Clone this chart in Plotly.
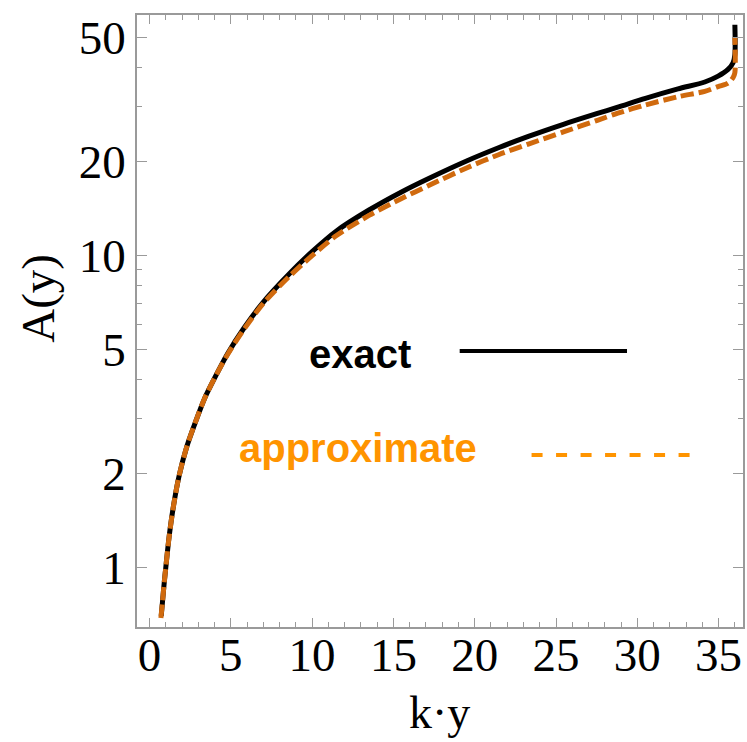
import plotly.graph_objects as go

# ---- data ----
ky_exact = [0.72, 0.80, 0.90, 1.0, 1.2, 1.45, 1.8, 2.3, 2.9, 3.4, 4.0, 4.8, 5.8, 7.0, 8.6,
            10.0, 11.5, 13.5, 15.5, 17.2, 19.5, 21.5, 23.3, 25.5, 27.5, 28.8, 30.5, 32.5,
            34.15, 34.97, 35.58, 35.89, 36.0, 36.0]
A_exact = [0.70, 0.78, 0.89, 1.0, 1.25, 1.55, 1.95, 2.45, 3.0, 3.5, 4.05, 4.85, 5.85, 7.1, 8.75,
           10.3, 12.0, 14.0, 16.0, 17.7, 20.1, 22.2, 24.1, 26.4, 28.5, 29.9, 31.9, 34.2,
           36.0, 37.6, 39.5, 41.5, 44.0, 54.9]

ky_approx = [0.70, 0.80, 0.90, 1.0, 1.2, 1.45, 1.8, 2.3, 2.9, 3.4, 4.0, 4.8, 5.8, 7.0, 8.6,
             10.0, 11.5, 13.5, 15.5, 17.2, 19.5, 21.5, 23.3, 25.5, 27.5, 28.8, 30.5, 32.5,
             34.15, 34.97, 35.58, 35.9, 36.0, 36.0]
A_approx = [0.69, 0.78, 0.89, 1.0, 1.25, 1.55, 1.95, 2.45, 3.0, 3.5, 4.05, 4.82, 5.8, 7.03, 8.58,
            10.0, 11.6, 13.45, 15.25, 16.8, 19.1, 21.09, 22.77, 24.95, 27.08, 28.6, 30.4, 32.3,
            33.6, 34.8, 35.7, 37.3, 38.6, 50.0]

x_major = [0, 5, 10, 15, 20, 25, 30, 35]
y_major = [1, 2, 5, 10, 20, 50]
y_minor = [3, 4, 6, 7, 8, 9, 30, 40]

legend_labels = ["exact", "approximate"]
x_title = "k·y"
y_title = "A(y)"

BLACK = "#000000"
CURVE_ORANGE = "#d06a0e"
LEGEND_ORANGE = "#ff9400"
FRAME = "#9a9a9a"

fig = go.Figure()
fig.add_trace(go.Scatter(x=ky_exact, y=A_exact, mode="lines",
                         line=dict(color=BLACK, width=5, shape="spline", smoothing=0.8),
                         showlegend=False))
fig.add_trace(go.Scatter(x=ky_approx, y=A_approx, mode="lines",
                         line=dict(color=CURVE_ORANGE, width=5, dash="13px,5px",
                                   shape="spline", smoothing=0.8),
                         showlegend=False))

tickfont = dict(family="Liberation Serif", size=47, color="black")

fig.update_layout(
    width=747, height=742,
    margin=dict(l=137, r=2, t=15, b=115),
    paper_bgcolor="white", plot_bgcolor="white",
    xaxis=dict(
        range=[-0.77, 36.5], showgrid=False, zeroline=False,
        showline=True, linecolor=FRAME, linewidth=1.5, mirror="ticks",
        ticks="inside", ticklen=9, tickwidth=1.2, tickcolor=FRAME,
        tickmode="array", tickvals=x_major, ticktext=[str(v) for v in x_major],
        tickfont=tickfont, ticklabelstandoff=-14,
        minor=dict(dtick=1, tick0=0, ticks="inside", ticklen=5, tickwidth=1.2, tickcolor=FRAME),
    ),
    yaxis=dict(
        type="log", range=[-0.19, 1.771], showgrid=False, zeroline=False,
        showline=True, linecolor=FRAME, linewidth=1.5, mirror="ticks",
        ticks="inside", ticklen=10, tickwidth=1.2, tickcolor=FRAME,
        tickmode="array", tickvals=y_major, ticktext=[str(v) for v in y_major],
        tickfont=tickfont, ticklabelstandoff=0,
        minor=dict(tickmode="array", tickvals=y_minor, ticks="inside", ticklen=5,
                   tickwidth=1.2, tickcolor=FRAME),
    ),
)

# axis titles
fig.add_annotation(xref="paper", yref="paper", x=0.4996, y=-0.1405, xanchor="center", yanchor="middle",
                   text=x_title, showarrow=False,
                   font=dict(family="Liberation Serif", size=46, color="black"))
fig.add_annotation(xref="paper", yref="paper", x=-0.1638, y=0.5376, xanchor="center", yanchor="middle",
                   text=y_title, showarrow=False, textangle=-90,
                   font=dict(family="Liberation Serif", size=47, color="black"))

# in-plot legend (text + sample lines), positioned in paper coordinates
fig.add_annotation(xref="paper", yref="paper", x=0.2807, y=0.446, xanchor="left", yanchor="middle",
                   text="<b>%s</b>" % legend_labels[0], showarrow=False,
                   font=dict(family="Liberation Sans", size=40, color=BLACK))
fig.add_annotation(xref="paper", yref="paper", x=0.1654, y=0.293, xanchor="left", yanchor="middle",
                   text="<b>%s</b>" % legend_labels[1], showarrow=False,
                   font=dict(family="Liberation Sans", size=40, color=LEGEND_ORANGE))
fig.add_shape(type="line", xref="paper", yref="paper", x0=0.5325, x1=0.8086, y0=0.451, y1=0.451,
              line=dict(color=BLACK, width=4))
fig.add_shape(type="line", xref="paper", yref="paper", x0=0.6511, x1=0.9144, y0=0.281, y1=0.281,
              line=dict(color=LEGEND_ORANGE, width=4, dash="11px,13.5px"))

fig.write_html("out.html")
